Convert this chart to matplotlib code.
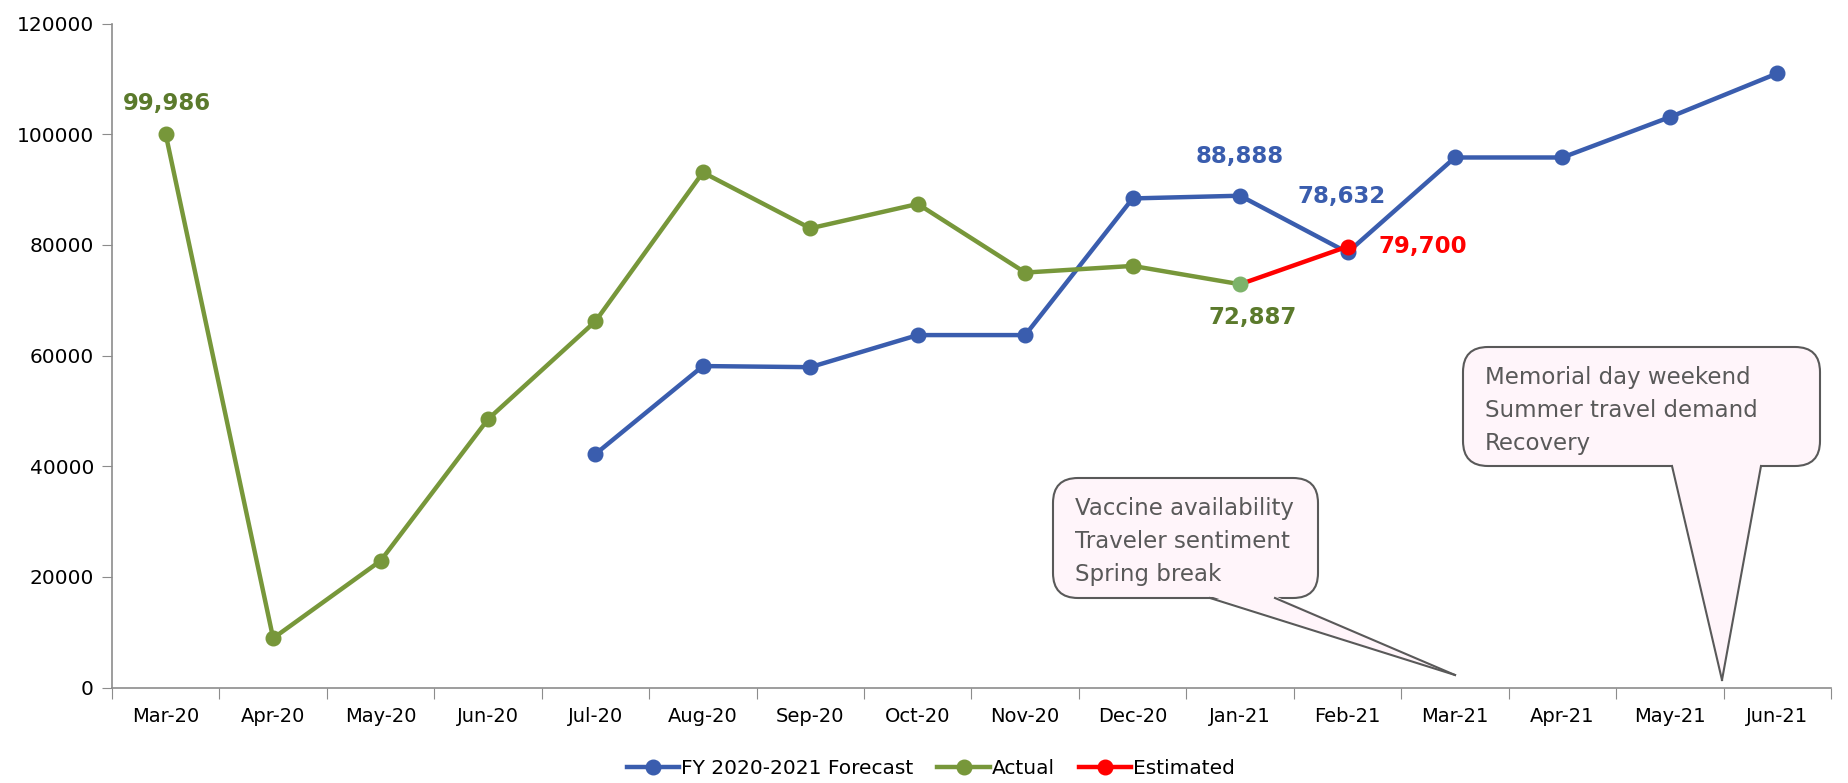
import matplotlib.pyplot as plt
import numpy as np
from matplotlib.patches import FancyBboxPatch, Polygon
from matplotlib.lines import Line2D

# Chart data
months = ['Mar-20', 'Apr-20', 'May-20', 'Jun-20', 'Jul-20', 'Aug-20', 'Sep-20', 'Oct-20',
          'Nov-20', 'Dec-20', 'Jan-21', 'Feb-21', 'Mar-21', 'Apr-21', 'May-21', 'Jun-21']
actual = [99986, 8900, 22900, 48500, 66200, 93100, 83000, 87400, 75000, 76200, 72887]
forecast_start = 4  # forecast begins at Jul-20
forecast = [42200, 58100, 57900, 63700, 63700, 88400, 88888, 78632, 95800, 95800, 103100, 111000]
estimated = [72887, 79700]  # Jan-21 -> Feb-21
estimated_start = 10

callout_1 = ['Vaccine availability', 'Traveler sentiment', 'Spring break']
callout_2 = ['Memorial day weekend', 'Summer travel demand', 'Recovery']

BLUE = '#3A5DAE'
GREEN = '#77973A'
LIGHT_GREEN = '#7DB36A'
LABEL_GREEN = '#5B7A2C'
RED = '#FF0000'
AXIS_GRAY = '#8C8C8C'
NOTE_GRAY = '#595959'

W, H = 1849, 783
fig = plt.figure(figsize=(W / 100, H / 100), dpi=100)
ax = fig.add_axes([112 / W, 1 - 687.5 / H, (1831 - 112) / W, (687.5 - 23.6) / H])

x_all = np.arange(len(months))
x_act = x_all[:len(actual)]
x_fc = x_all[forecast_start:forecast_start + len(forecast)]
x_est = x_all[estimated_start:estimated_start + len(estimated)]

lw, ms = 3.2, 10.5
ax.plot(x_fc, forecast, color=BLUE, lw=lw, marker='o', ms=ms, zorder=3,
        label='FY 2020-2021 Forecast')
ax.plot(x_act, actual, color=GREEN, lw=lw, marker='o', ms=ms, zorder=4,
        markevery=list(range(len(actual) - 1)), label='Actual')
ax.plot(x_est, estimated, color=RED, lw=lw, marker='o', ms=ms, zorder=5,
        markevery=[1], label='Estimated')
ax.plot(x_act[-1], actual[-1], 'o', color=LIGHT_GREEN, ms=ms, zorder=6)

# data labels
lbl = dict(fontsize=16.5, fontweight='bold', ha='center', va='center',
           textcoords='offset points')
ax.annotate(f'{actual[0]:,}', (x_act[0], actual[0]), xytext=(1, 22), color=LABEL_GREEN, **lbl)
ax.annotate(f'{actual[-1]:,}', (x_act[-1], actual[-1]), xytext=(9, -24), color=LABEL_GREEN, **lbl)
i_jan = estimated_start - forecast_start
ax.annotate(f'{forecast[i_jan]:,}', (x_fc[i_jan], forecast[i_jan]), xytext=(0, 28), color=BLUE, **lbl)
ax.annotate(f'{forecast[i_jan + 1]:,}', (x_fc[i_jan + 1], forecast[i_jan + 1]), xytext=(-4, 40),
            color=BLUE, **lbl)
lbl_left = dict(lbl, ha='left')
ax.annotate(f'{estimated[-1]:,}', (x_est[-1], estimated[-1]), xytext=(22, 0), color=RED, **lbl_left)

# axes
ax.set_xlim(-0.5, len(months) - 0.5)
ax.set_ylim(0, 120000)
ax.set_yticks(np.arange(0, 120001, 20000))
ax.tick_params(axis='y', length=7, color=AXIS_GRAY, labelsize=14.5, pad=6)
ax.set_xticks(np.arange(-0.5, len(months), 1))
ax.set_xticklabels([])
ax.set_xticks(x_all, minor=True)
ax.set_xticklabels(months, minor=True)
ax.tick_params(axis='x', which='major', length=8, color=AXIS_GRAY)
ax.tick_params(axis='x', which='minor', length=0, labelsize=14, pad=14)
for s in ['top', 'right']:
    ax.spines[s].set_visible(False)
for s in ['left', 'bottom']:
    ax.spines[s].set_color(AXIS_GRAY)
    ax.spines[s].set_linewidth(1.2)

# legend
fig.legend(loc='center', bbox_to_anchor=(931 / W, 0.019), ncol=3, frameon=False,
           fontsize=14.5, handlelength=2.6, handletextpad=0.1, columnspacing=1.2)


# callouts, drawn in figure pixel space
def px(x, y):
    return (x / 100, (H - y) / 100)


def callout(box, base, tip, lines, text_xy):
    x0, y0, x1, y1 = box
    (lx0, ly0), (lx1, ly1) = px(x0, y1), px(x1, y0)
    t = fig.dpi_scale_trans
    rect = FancyBboxPatch((lx0, ly0), lx1 - lx0, ly1 - ly0,
                          boxstyle='round,pad=0,rounding_size=0.25', transform=t,
                          facecolor='#FFF5FA', edgecolor=NOTE_GRAY, lw=1.5, zorder=10)
    fig.patches.append(rect)
    b0, b1 = base
    tail = Polygon([px(b0, y1 - 2), px(b1, y1 - 2), px(*tip)], closed=True, transform=t,
                   facecolor='#FFF5FA', edgecolor='none', zorder=11)
    fig.patches.append(tail)
    for bx in (b0, b1):
        xa, ya = px(bx, y1)
        xb, yb = px(*tip)
        fig.lines.append(Line2D([xa, xb], [ya, yb], transform=t, color=NOTE_GRAY,
                                lw=1.5, zorder=12))
    tx, ty = px(*text_xy)
    fig.text(tx, ty, '\n'.join(lines), transform=t, fontsize=16.5, color=NOTE_GRAY,
             va='top', ha='left', linespacing=1.55, zorder=13)


callout((1053, 478, 1318, 598), (1210, 1275), (1455, 675), callout_1, (1075, 497))
callout((1463, 347, 1820, 466), (1672, 1761), (1722, 680), callout_2, (1485, 366))

fig.savefig('out.png', dpi=100)
